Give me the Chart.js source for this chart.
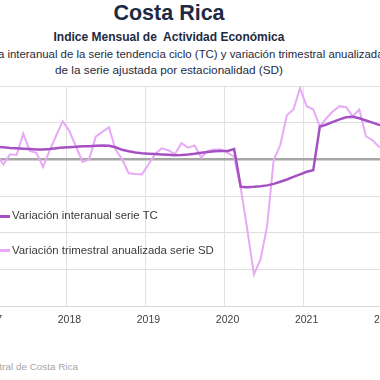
<!DOCTYPE html>
<html><head><meta charset="utf-8">
<script src="https://cdn.jsdelivr.net/npm/chart.js@4/dist/chart.umd.min.js"></script>
<style>
html,body{margin:0;padding:0;width:380px;height:380px;overflow:hidden;background:#fff;}
body{position:relative;font-family:"Liberation Sans",Arial,sans-serif;}
.t{position:absolute;white-space:pre;line-height:1;color:#1e2a42;}
.c{left:-231px;width:800px;text-align:center;}
#wrap{position:absolute;left:-33px;top:76px;width:442px;height:260px;}
.sw{position:absolute;left:-10px;width:20px;height:2.5px;}
.leg{position:absolute;left:12px;font-size:11.4px;line-height:1;color:#3a3a3a;white-space:pre;}
</style></head>
<body>
<div class="t c" style="top:2.8px;font-size:21.5px;font-weight:bold;">Costa Rica</div>
<div class="t c" style="top:30.8px;font-size:12px;font-weight:bold;">Indice Mensual de  Actividad Económica</div>
<div class="t" style="left:-54px;top:49.3px;font-size:11.4px;">Tasa media interanual de la serie tendencia ciclo (TC) y variación trimestral anualizada</div>
<div class="t c" style="top:64.2px;font-size:11.75px;">de la serie ajustada por estacionalidad (SD)</div>
<div id="wrap"><canvas id="chart"></canvas></div>
<div class="sw" style="top:215px;background:#a551c4"></div>
<div class="leg" style="top:210.4px">Variación interanual serie TC</div>
<div class="sw" style="top:249px;background:#e8a9f6"></div>
<div class="leg" style="top:244.6px">Variación trimestral anualizada serie SD</div>
<div class="t" style="right:302px;top:361.5px;font-size:9.9px;color:#a6a6a6;">Fuente: Banco Central de Costa Rica</div>
<script>
const months = [
 '2017-01','2017-02','2017-03','2017-04','2017-05','2017-06','2017-07','2017-08','2017-09','2017-10','2017-11','2017-12',
 '2018-01','2018-02','2018-03','2018-04','2018-05','2018-06','2018-07','2018-08','2018-09','2018-10','2018-11','2018-12',
 '2019-01','2019-02','2019-03','2019-04','2019-05','2019-06','2019-07','2019-08','2019-09','2019-10','2019-11','2019-12',
 '2020-01','2020-02','2020-03','2020-04','2020-05','2020-06','2020-07','2020-08','2020-09','2020-10','2020-11','2020-12',
 '2021-01','2021-02','2021-03','2021-04','2021-05','2021-06','2021-07','2021-08','2021-09','2021-10','2021-11','2021-12',
 '2022-01'];
const tickLabels = months.map(m => m.endsWith('-01') ? m.slice(0,4) : '');
const tcValues = [
 3.4,3.35,3.3,3.1,3.0,2.9,2.8,2.7,2.7,2.8,3.0,3.2,
 3.3,3.4,3.55,3.6,3.7,3.8,3.7,3.3,2.6,2.2,1.85,1.65,
 1.55,1.45,1.35,1.25,1.1,1.15,1.3,1.5,1.8,2.0,2.2,2.3,
 2.3,2.8,-7.5,-7.6,-7.5,-7.35,-7.1,-6.7,-6.1,-5.5,-4.8,-4.1,
 -3.4,-3.0,8.9,9.5,10.2,10.9,11.45,11.6,11.2,10.6,10.0,9.4,
 8.9];
const sdValues = [
 2.0,1.2,-1.4,1.4,1.2,7.0,2.3,1.8,-2.1,2.4,6.5,10.4,
 7.7,3.5,-0.7,0.0,6.2,7.5,8.7,2.7,0.0,-3.8,-4.0,-4.1,
 -1.4,1.4,3.0,2.5,1.4,4.4,3.2,3.8,0.5,2.3,2.7,2.7,
 1.8,0.7,-7.8,-19.2,-31.4,-27.3,-18.3,-0.2,3.9,12.0,13.6,19.4,
 14.5,13.6,9.0,11.2,13.1,14.5,14.2,11.7,13.6,6.3,5.2,3.4,
 4.0];
const seriesNames = ['Variación interanual serie TC','Variación trimestral anualizada serie SD'];

new Chart(document.getElementById('chart'), {
  type: 'line',
  data: {
    labels: months,
    datasets: [
      {label: seriesNames[0], data: tcValues, borderColor:'#a551c4', borderWidth:2.5, pointRadius:0, tension:0, fill:false},
      {label: seriesNames[1], data: sdValues, borderColor:'#e8a9f6', borderWidth:2, pointRadius:0, tension:0, fill:false}
    ]
  },
  options: {
    responsive: true, maintainAspectRatio: false, animation: false,
    layout: {padding: {left:20, right:20, top:10, bottom:0}},
    plugins: {legend:{display:false}, tooltip:{enabled:false}, title:{display:false}},
    scales: {
      x: {
        offset: true,
        afterFit: s => { s.height = 30; },
        grid: {
          offset: true, drawTicks: false,
          color: ctx => (ctx.index !== undefined && ctx.index < months.length && months[ctx.index].endsWith('-01')) ? '#e2e2e2' : 'rgba(0,0,0,0)',
          lineWidth: 1
        },
        border: {display: true, color: '#d9d9d9', width: 1},
        ticks: {
          autoSkip: false, maxRotation: 0, minRotation: 0, padding: 8,
          color: '#404040', font: {family: '"Liberation Sans", Arial, sans-serif', size: 10.5},
          callback: (v, i) => tickLabels[i]
        }
      },
      y: {
        min: -40, max: 20,
        afterFit: s => { s.width = 0; },
        ticks: {display: false, stepSize: 10},
        border: {display: false},
        grid: {
          drawTicks: false,
          color: ctx => (ctx.tick && ctx.tick.value === 0) ? '#a6a6a6' : '#dedede',
          lineWidth: ctx => (ctx.tick && ctx.tick.value === 0) ? 2.5 : 1
        }
      }
    }
  }
});
</script>
</body></html>
